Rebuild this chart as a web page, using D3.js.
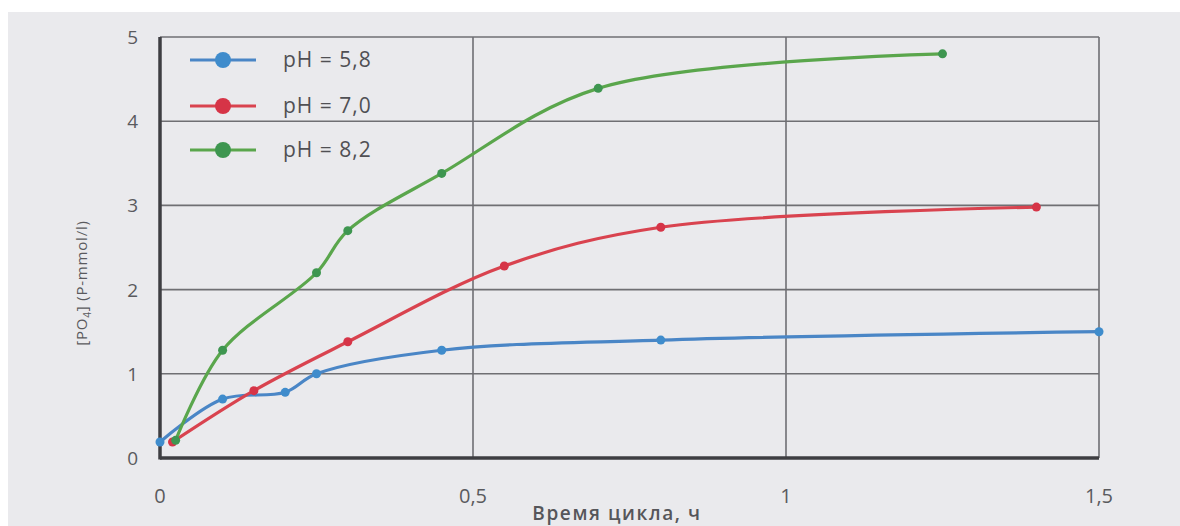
<!DOCTYPE html>
<html>
<head>
<meta charset="utf-8">
<script src="https://cdn.jsdelivr.net/npm/d3@7"></script>
<style>
  body { margin: 0; background: #fff; }
  svg { display: block; font-family: "Open Sans", "Noto Sans", sans-serif; }
</style>
</head>
<body>
<svg id="chart"></svg>
<script>
var width = 1180;
var height = 526;

// data
var seriesNames = ["pH = 5,8", "pH = 7,0", "pH = 8,2"];
var seriesColors = ["#4a86c6", "#d9434f", "#5aa64c"];
var markerColors = ["#3f8ccc", "#d63447", "#3e9650"];

var time58 = [0, 0.10, 0.20, 0.25, 0.45, 0.80, 1.50];
var po58   = [0.19, 0.70, 0.78, 1.00, 1.28, 1.40, 1.50];

var time70 = [0.02, 0.15, 0.30, 0.55, 0.80, 1.40];
var po70   = [0.19, 0.80, 1.38, 2.28, 2.74, 2.98];

var time82 = [0.025, 0.10, 0.25, 0.30, 0.45, 0.70, 1.25];
var po82   = [0.21, 1.28, 2.20, 2.70, 3.38, 4.39, 4.80];

var xTicks = [0, 0.5, 1, 1.5];
var xTickLabels = ["0", "0,5", "1", "1,5"];
var yTicks = [0, 1, 2, 3, 4, 5];

var series = [
  { name: seriesNames[0], x: time58, y: po58 },
  { name: seriesNames[1], x: time70, y: po70 },
  { name: seriesNames[2], x: time82, y: po82 }
];

var xScale = d3.scaleLinear().domain([0, 1.5]).range([160, 1099]);
var yScale = d3.scaleLinear().domain([0, 5]).range([458, 37]);

var svg = d3.select("#chart")
  .attr("width", width)
  .attr("height", height);

// photographed page
svg.append("rect")
  .attr("x", 8).attr("y", 12)
  .attr("width", width - 8).attr("height", height - 12)
  .style("fill", "#eaeaed");

// grid lines
svg.append("g").selectAll("line")
  .data(yTicks.slice(1))
  .enter().append("line")
  .attr("x1", xScale(0)).attr("x2", xScale(1.5))
  .attr("y1", function (d) { return yScale(d); })
  .attr("y2", function (d) { return yScale(d); })
  .style("stroke", "#6f6f73").style("stroke-width", 1.6);

svg.append("g").selectAll("line")
  .data(xTicks.slice(1))
  .enter().append("line")
  .attr("x1", function (d) { return xScale(d); })
  .attr("x2", function (d) { return xScale(d); })
  .attr("y1", yScale(0)).attr("y2", yScale(5))
  .style("stroke", "#6f6f73").style("stroke-width", 1.6);

// axis lines (thick, dark)
svg.append("line")
  .attr("x1", xScale(0)).attr("x2", xScale(1.5))
  .attr("y1", yScale(0)).attr("y2", yScale(0))
  .style("stroke", "#3e3e42").style("stroke-width", 3.5);
svg.append("line")
  .attr("x1", xScale(0)).attr("x2", xScale(0))
  .attr("y1", yScale(0) + 1.5).attr("y2", yScale(5))
  .style("stroke", "#3e3e42").style("stroke-width", 3.5);

// tick labels
svg.append("g").selectAll("text")
  .data(yTicks)
  .enter().append("text")
  .attr("x", 138)
  .attr("y", function (d) { return yScale(d) + 7; })
  .attr("text-anchor", "end")
  .style("font-size", "19px")
  .style("fill", "#5a5a5e")
  .text(function (d) { return d; });

svg.append("g").selectAll("text")
  .data(xTicks)
  .enter().append("text")
  .attr("x", function (d) { return xScale(d); })
  .attr("y", 503)
  .attr("text-anchor", "middle")
  .style("font-size", "20px")
  .style("fill", "#5a5a5e")
  .text(function (d, i) { return xTickLabels[i]; });

// axis titles
svg.append("text")
  .attr("x", 617)
  .attr("y", 520)
  .attr("text-anchor", "middle")
  .style("font-size", "19px")
  .style("font-weight", "600")
  .style("letter-spacing", "1.6px")
  .style("fill", "#56565a")
  .text("Время цикла, ч");

var yTitle = svg.append("text")
  .attr("transform", "translate(87,283) rotate(-90)")
  .attr("text-anchor", "middle")
  .style("font-size", "15px")
  .style("letter-spacing", "0.8px")
  .style("fill", "#5a5a5e");
yTitle.append("tspan").text("[PO");
yTitle.append("tspan").attr("dy", 4).style("font-size", "10px").text("4");
yTitle.append("tspan").attr("dy", -4).text("] (P-mmol/l)");

// lines
var line = d3.line()
  .x(function (d) { return xScale(d[0]); })
  .y(function (d) { return yScale(d[1]); })
  .curve(d3.curveCatmullRom.alpha(0.5));

series.forEach(function (s, k) {
  var pts = s.x.map(function (v, i) { return [v, s.y[i]]; });
  svg.append("path")
    .datum(pts)
    .attr("d", line)
    .style("fill", "none")
    .style("stroke", seriesColors[k])
    .style("stroke-width", 3.2)
    .style("stroke-linejoin", "round");
  svg.append("g").selectAll("circle")
    .data(pts)
    .enter().append("circle")
    .attr("cx", function (d) { return xScale(d[0]); })
    .attr("cy", function (d) { return yScale(d[1]); })
    .attr("r", 4.5)
    .style("fill", markerColors[k]);
});

// legend
var legendY = [60, 106, 150];
series.forEach(function (s, k) {
  var g = svg.append("g").attr("transform", "translate(0," + legendY[k] + ")");
  g.append("line")
    .attr("x1", 190).attr("x2", 256)
    .attr("y1", 0).attr("y2", 0)
    .style("stroke", seriesColors[k]).style("stroke-width", 3.2);
  g.append("circle")
    .attr("cx", 223).attr("cy", 0).attr("r", 8)
    .style("fill", markerColors[k]);
  g.append("text")
    .attr("x", 283).attr("y", 7)
    .style("font-size", "21px")
    .style("letter-spacing", "1px")
    .style("fill", "#505054")
    .text(s.name);
});
</script>
</body>
</html>
